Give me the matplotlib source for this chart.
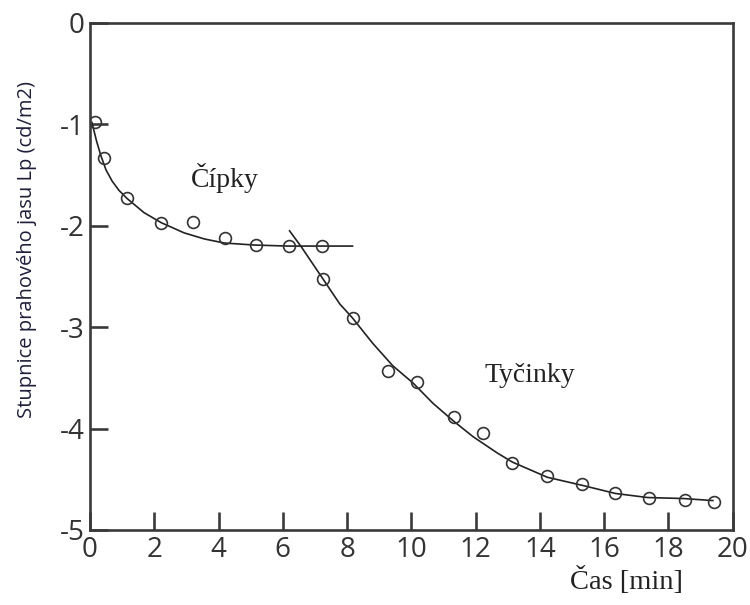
import numpy as np
import matplotlib
matplotlib.use("Agg")
import matplotlib.pyplot as plt

plt.rcParams["axes.unicode_minus"] = False

# measured thresholds (open circles)
cone_t = [0.16, 0.44, 1.15, 2.22, 3.21, 4.21, 5.15, 6.18, 7.21]
cone_lp = [-0.98, -1.33, -1.73, -1.97, -1.96, -2.12, -2.19, -2.20, -2.20]
rod_t = [7.24, 8.17, 9.27, 10.17, 11.33, 12.23, 13.14, 14.23, 15.32, 16.35, 17.38, 18.50, 19.41]
rod_lp = [-2.52, -2.91, -3.43, -3.54, -3.89, -4.04, -4.34, -4.47, -4.55, -4.64, -4.68, -4.70, -4.72]

# hand-drawn fit curves
cone_fit_t = [0.06, 0.20, 0.34, 0.50, 0.69, 0.90, 1.15, 1.68, 2.22, 2.93, 3.56, 4.18, 5.12, 6.15, 7.08, 8.17]
cone_fit_lp = [-0.98, -1.16, -1.31, -1.45, -1.56, -1.65, -1.73, -1.87, -1.97, -2.07, -2.13, -2.17,
               -2.19, -2.20, -2.20, -2.20]
rod_fit_t = [6.21, 6.58, 7.24, 7.77, 8.17, 8.80, 9.42, 10.05, 10.67, 11.29, 11.92, 12.67,
             13.14, 14.23, 15.32, 16.35, 17.35, 18.47, 19.38]
rod_fit_lp = [-2.05, -2.21, -2.52, -2.77, -2.91, -3.16, -3.38, -3.55, -3.75, -3.92, -4.08, -4.24,
              -4.33, -4.48, -4.56, -4.64, -4.68, -4.69, -4.71]

xticks = [0, 2, 4, 6, 8, 10, 12, 14, 16, 18, 20]
yticks = [0, -1, -2, -3, -4, -5]

fig = plt.figure(figsize=(7.5, 6.05), dpi=100)
ax = fig.add_axes([0.12, 0.124, 0.857, 0.838])

ax.plot(cone_fit_t, cone_fit_lp, color="#222222", lw=1.2)
ax.plot(rod_fit_t, rod_fit_lp, color="#222222", lw=1.2)
ax.plot(cone_t, cone_lp, "o", mfc="none", mec="#333333", ms=8.5, mew=1.2)
ax.plot(rod_t, rod_lp, "o", mfc="none", mec="#333333", ms=8.5, mew=1.2)

ax.set_xlim(0, 20)
ax.set_ylim(-5, 0)
ax.set_xticks(xticks)
ax.set_yticks(yticks)
ax.set_xticklabels([str(v) for v in xticks])
ax.set_yticklabels([str(v) for v in yticks])

for s in ax.spines.values():
    s.set_linewidth(1.9)
    s.set_color("#3a3a3a")
ax.tick_params(direction="in", length=13, width=1.9, color="#3a3a3a",
               labelsize=20, labelcolor="#333333", pad=4)
for lab in ax.get_xticklabels() + ax.get_yticklabels():
    lab.set_family("Open Sans")

ax.text(4.2, -1.53, "Čípky", family="Liberation Serif", fontsize=20,
        ha="center", va="center", color="#222222")
ax.text(13.7, -3.48, "Tyčinky", family="Liberation Serif", fontsize=20,
        ha="center", va="center", color="#222222")

fig.text(0.836, 0.040, "Čas [min]", family="Liberation Serif", fontsize=20.5,
         ha="center", va="center", color="#222222")
fig.text(0.036, 0.587, "Stupnice prahového jasu Lp (cd/m2)", family="Open Sans",
         fontsize=14.5, rotation=90, ha="center", va="center", color="#1e1e3a")

fig.savefig("out.png", dpi=100)
